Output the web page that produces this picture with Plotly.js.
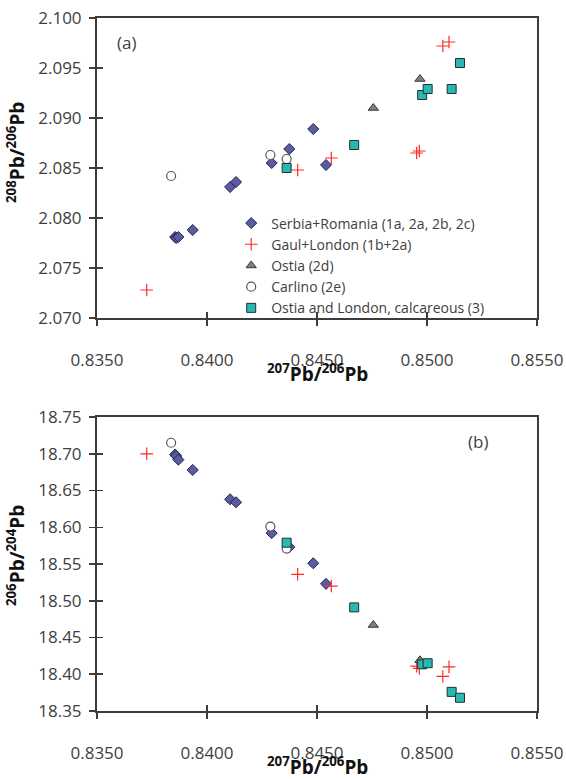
<!DOCTYPE html>
<html>
<head>
<meta charset="utf-8">
<script src="https://cdn.plot.ly/plotly-3.0.1.min.js"></script>
<style>
  html, body { margin: 0; padding: 0; background: #fff; }
  #chart { width: 566px; height: 779px; }
</style>
</head>
<body>
<div id="chart"></div>
<script>
// Lead isotope ratios: 207Pb/206Pb against 208Pb/206Pb (a) and 206Pb/204Pb (b)
const seriesNames = [
  'Serbia+Romania (1a, 2a, 2b, 2c)',
  'Gaul+London (1b+2a)',
  'Ostia (2d)',
  'Carlino (2e)',
  'Ostia and London, calcareous (3)'
];

const serbiaX    = [0.83855, 0.83860, 0.83870, 0.83935, 0.84105, 0.84132, 0.84294, 0.84374, 0.84483, 0.84541];
const serbia208  = [2.0781, 2.0780, 2.0781, 2.0788, 2.0831, 2.0836, 2.0855, 2.0869, 2.0889, 2.0853];
const serbia206  = [18.699, 18.697, 18.692, 18.678, 18.638, 18.634, 18.592, 18.573, 18.551, 18.523];

const gaulX      = [0.83726, 0.84412, 0.84565, 0.84953, 0.84965, 0.85072, 0.85100];
const gaul208    = [2.0728, 2.0848, 2.0860, 2.0865, 2.0867, 2.0972, 2.0976];
const gaul206    = [18.700, 18.536, 18.520, 18.411, 18.408, 18.397, 18.410];

const ostiaX     = [0.84756, 0.84968];
const ostia208   = [2.0910, 2.0939];
const ostia206   = [18.467, 18.419];

const carlinoX   = [0.83837, 0.84288, 0.84362];
const carlino208 = [2.0842, 2.0863, 2.0859];
const carlino206 = [18.715, 18.601, 18.571];

const calcX      = [0.84362, 0.84669, 0.84978, 0.85003, 0.85112, 0.85150];
const calc208    = [2.0850, 2.0873, 2.0923, 2.0929, 2.0929, 2.0955];
const calc206    = [18.579, 18.491, 18.4135, 18.415, 18.376, 18.368];

const xTitle  = '<sup>207</sup>Pb/<sup>206</sup>Pb';
const yTitleA = '<sup>208</sup>Pb/<sup>206</sup>Pb';
const yTitleB = '<sup>206</sup>Pb/<sup>204</sup>Pb';

const markerStyles = [
  { symbol: 'diamond', size: 8.5, color: '#5a5ca3', line: { color: '#23234a', width: 1 } },
  { symbol: 'cross-thin', size: 9, color: '#ff2a2a', line: { color: '#ff2a2a', width: 1.2 } },
  { symbol: 'triangle-up', size: 9, color: '#7f7f7f', line: { color: '#3a3a3a', width: 1 } },
  { symbol: 'circle', size: 9, color: '#ffffff', line: { color: '#555555', width: 1.2 } },
  { symbol: 'square', size: 9, color: '#2bb7b1', line: { color: '#1c3434', width: 1 } }
];

const xs   = [serbiaX, gaulX, ostiaX, carlinoX, calcX];
const ysA  = [serbia208, gaul208, ostia208, carlino208, calc208];
const ysB  = [serbia206, gaul206, ostia206, carlino206, calc206];

const traces = [];
seriesNames.forEach((name, i) => {
  traces.push({
    type: 'scatter', mode: 'markers', name: name,
    x: xs[i], y: ysA[i], xaxis: 'x', yaxis: 'y',
    marker: markerStyles[i], showlegend: true
  });
});
seriesNames.forEach((name, i) => {
  traces.push({
    type: 'scatter', mode: 'markers', name: name,
    x: xs[i], y: ysB[i], xaxis: 'x2', yaxis: 'y2',
    marker: markerStyles[i], showlegend: false
  });
});
// empty traces that carry the inner half of the crossing tick marks
traces.push({ type: 'scatter', x: [], y: [], xaxis: 'x3', yaxis: 'y3', showlegend: false, hoverinfo: 'skip' });
traces.push({ type: 'scatter', x: [], y: [], xaxis: 'x4', yaxis: 'y4', showlegend: false, hoverinfo: 'skip' });

const axisColor = '#3c3c3c';
const tickFont = { family: 'Open Sans, sans-serif', size: 17, color: '#404040' };
const titleFont = { family: 'Open Sans, sans-serif', size: 19, color: '#111', weight: 'bold' };

const xRange = [0.835, 0.855];
const yRangeA = [2.07, 2.10];
const yRangeB = [18.35, 18.75];

function baseX(anchor) {
  return {
    anchor: anchor, range: xRange, dtick: 0.005, tick0: 0.835, tickformat: '.4f',
    showgrid: false, zeroline: false, showline: true, mirror: true,
    linecolor: axisColor, linewidth: 2, ticks: 'outside', ticklen: 6, tickwidth: 1.5,
    tickcolor: axisColor, tickfont: tickFont, ticklabelstandoff: 20
  };
}
function baseY(anchor, range, dtick, fmt) {
  return {
    anchor: anchor, range: range, dtick: dtick, tick0: range[0], tickformat: fmt,
    showgrid: false, zeroline: false, showline: true, mirror: true,
    linecolor: axisColor, linewidth: 2, ticks: 'outside', ticklen: 6, tickwidth: 1.5,
    tickcolor: axisColor, tickfont: tickFont, ticklabelstandoff: 4
  };
}
function innerTicks(extra) {
  return Object.assign({
    showgrid: false, zeroline: false, showline: false, showticklabels: false,
    ticks: 'inside', ticklen: 6, tickwidth: 1.5, tickcolor: axisColor
  }, extra);
}

const yA = baseY('x', yRangeA, 0.005, '.3f');
yA.domain = [0.5671, 1];
const yB = baseY('x2', yRangeB, 0.05, '.2f');
yB.domain = [0, 0.4242];

const panelFont = { family: 'Open Sans, sans-serif', size: 17, color: '#404040' };

// axis titles placed as annotations so they sit snugly under / beside the tick labels
const annotations = [
  { text: '(a)', xref: 'x domain', yref: 'y domain', x: 0.067, y: 0.918,
    xanchor: 'center', yanchor: 'middle', showarrow: false, font: panelFont },
  { text: '(b)', xref: 'x2 domain', yref: 'y2 domain', x: 0.866, y: 0.918,
    xanchor: 'center', yanchor: 'middle', showarrow: false, font: panelFont },
  { text: xTitle, xref: 'x domain', yref: 'y domain', x: 0.5, y: -0.183,
    xanchor: 'center', yanchor: 'middle', showarrow: false, font: titleFont },
  { text: xTitle, xref: 'x2 domain', yref: 'y2 domain', x: 0.5, y: -0.187,
    xanchor: 'center', yanchor: 'middle', showarrow: false, font: titleFont },
  { text: yTitleA, xref: 'paper', yref: 'y domain', x: -0.184, y: 0.55, textangle: -90,
    xanchor: 'center', yanchor: 'middle', showarrow: false, font: titleFont },
  { text: yTitleB, xref: 'paper', yref: 'y2 domain', x: -0.184, y: 0.527, textangle: -90,
    xanchor: 'center', yanchor: 'middle', showarrow: false, font: titleFont }
];

const layout = {
  width: 566, height: 779,
  margin: { l: 97, r: 29, t: 18, b: 68 },
  paper_bgcolor: '#ffffff', plot_bgcolor: '#ffffff',
  showlegend: true,
  legend: {
    x: 0.305, y: 0.7266, xanchor: 'left', yanchor: 'top',
    bgcolor: 'rgba(0,0,0,0)', borderwidth: 0, tracegroupgap: 0,
    font: { family: 'Open Sans, sans-serif', size: 14, color: '#404040' },
    itemclick: false, itemdoubleclick: false
  },
  xaxis: baseX('y'),
  yaxis: yA,
  xaxis2: baseX('y2'),
  yaxis2: yB,
  xaxis3: innerTicks({ overlaying: 'x', anchor: 'y', range: xRange, dtick: 0.005, tick0: 0.835 }),
  yaxis3: innerTicks({ overlaying: 'y', anchor: 'x', range: yRangeA, dtick: 0.005, tick0: 2.07 }),
  xaxis4: innerTicks({ overlaying: 'x2', anchor: 'y2', range: xRange, dtick: 0.005, tick0: 0.835 }),
  yaxis4: innerTicks({ overlaying: 'y2', anchor: 'x2', range: yRangeB, dtick: 0.05, tick0: 18.35 }),
  annotations: annotations
};

Plotly.newPlot('chart', traces, layout, { staticPlot: true, displayModeBar: false });
</script>
</body>
</html>
